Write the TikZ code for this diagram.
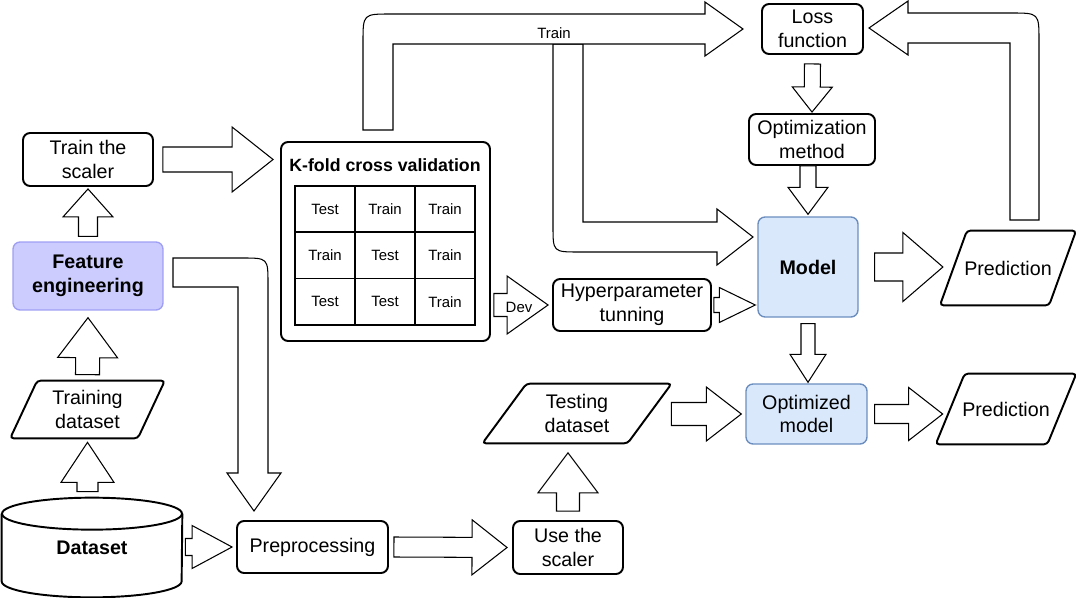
\documentclass[tikz,border=0pt]{standalone}
\usepackage{fontspec}
\setmainfont{Liberation Sans}
\usetikzlibrary{calc}
\definecolor{purplefill}{HTML}{CCCCFF}
\definecolor{purpleline}{HTML}{9F9FF5}
\definecolor{bluefill}{HTML}{DAE8FC}
\definecolor{blueline}{HTML}{6C8EBF}
\tikzset{
  txt/.style={font=\fontsize{11.2}{13.4}\selectfont},
  boldtxt/.style={font=\fontsize{11.2}{13.4}\selectfont\bfseries},
  box/.style={draw, line width=1.1pt, rounded corners=4pt, align=center, inner sep=1pt, txt},
  purplebox/.style={box, draw=purpleline, line width=0.8pt, fill=purplefill, boldtxt},
  bluebox/.style={box, draw=blueline, line width=0.8pt, fill=bluefill},
  para/.style={align=center, inner sep=1pt, txt, append after command={\pgfextra{
    \draw[line width=1.1pt, rounded corners=2pt] ([xshift=#1]\tikzlastnode.north west)
      -- ([xshift=#1]\tikzlastnode.north east) -- ([xshift=-#1]\tikzlastnode.south east)
      -- ([xshift=-#1]\tikzlastnode.south west) -- cycle;}}},
  cell/.style={draw, line width=0.9pt, minimum width=1.2cm, minimum height=0.927cm, inner sep=0pt,
    font=\fontsize{8.5}{10}\selectfont},
  lbl/.style={inner sep=0pt, font=\fontsize{8.5}{10}\selectfont},
  bentarrow/.style={draw, fill=white, line width=0.6pt},
  flex/.style n args={3}{draw, fill=white, line width=0.6pt, to path={
    ($(\tikztostart)!#1!90:(\tikztotarget)$)
    -- ($(\tikztotarget)!#3!(\tikztostart)!#1!90:(\tikztotarget)$)
    -- ($(\tikztotarget)!#3!(\tikztostart)!#2!90:(\tikztotarget)$)
    -- (\tikztotarget)
    -- ($(\tikztotarget)!#3!(\tikztostart)!#2!-90:(\tikztotarget)$)
    -- ($(\tikztotarget)!#3!(\tikztostart)!#1!-90:(\tikztotarget)$)
    -- ($(\tikztostart)!#1!-90:(\tikztotarget)$) -- cycle}},
}
\begin{document}
\begin{tikzpicture}[x=0.02cm, y=-0.02cm]
\useasboundingbox (0,0) rectangle (1079,598);

% left column
\node[box, minimum width=2.6cm, minimum height=1.06cm] (ts) at (88,159.5) {Train the\\scaler};
\node[purplebox, minimum width=3cm, minimum height=1.36cm] (fe) at (88,276) {Feature\\engineering};
\node[para=.27cm, minimum width=2.54cm, minimum height=1.14cm] (td) at (87.5,409.5) {Training\\dataset};
\node[boldtxt, minimum width=3.6cm, minimum height=1.98cm] (ds) at (92,547.5) {Dataset};
\draw[line width=1.1pt] ([yshift=-.32cm]ds.north west) -- ([yshift=.32cm]ds.south west)
  arc[start angle=180, end angle=360, x radius=1.8cm, y radius=.32cm] -- ([yshift=-.32cm]ds.north east);
\draw[line width=1.1pt] ([yshift=-.32cm]ds.north) ellipse [x radius=1.8cm, y radius=.32cm];

% bottom row
\node[box, minimum width=3.02cm, minimum height=1.04cm] (pp) at (312.5,547) {Preprocessing};
\node[box, minimum width=2.2cm, minimum height=1.06cm] (us) at (568,547.5) {Use the\\scaler};
\node[para=.44cm, minimum width=2.89cm, minimum height=1.18cm] (tsd) at (577,413.5) {Testing\\dataset};
\node[bluebox, minimum width=2.42cm, minimum height=1.2cm] (om) at (806.5,414) {Optimized\\model};
\node[para=.29cm, minimum width=2.22cm, minimum height=1.4cm] (pr2) at (1006,409) {Prediction};

% model column
\node[bluebox, boldtxt, minimum width=2cm, minimum height=2cm] (md) at (808,267) {Model};
\node[para=.27cm, minimum width=2.17cm, minimum height=1.48cm] (pr1) at (1008,268) {Prediction};
\node[box, minimum width=3.16cm, minimum height=1.04cm] (hp) at (632,305) {Hyperparameter\\tunning};
\node[box, minimum width=2.52cm, minimum height=1.02cm] (opt) at (812,139.5) {Optimization\\method};
\node[box, minimum width=2.02cm, minimum height=1cm] (lf) at (812.5,29) {Loss\\function};

% k-fold table
\node[box, minimum width=4.18cm, minimum height=3.98cm] (kf) at (385.5,241.5) {};
\node[font=\fontsize{10.1}{12}\selectfont\bfseries, inner sep=0pt] (kft) at (385,165) {K-fold cross validation};
\foreach \i/\ta/\tb/\tc in {1/Test/Train/Train,2/Train/Test/Train,3/Test/Test/Train}{
  \node[cell] (c\i1) at (325,{162.8+46.33*\i}) {\ta};
  \node[cell] (c\i2) at (385,{162.8+46.33*\i}) {\tb};
  \node[cell] (c\i3) at (445,{162.8+46.33*\i}) {\tc};}

% bent arrows
\draw[bentarrow] (173,258) -- (242,258) .. controls (268,258) .. (268,284) -- (268,473) -- (281,473)
  -- (254,511) -- (227,473) -- (238,473) -- (238,287) -- (173,287) -- cycle;
\draw[bentarrow] (553,44) -- (553,226) .. controls (553,252) .. (579,252) -- (717,252) -- (717,265)
  -- (753,237) -- (717,209) -- (717,222) -- (583,222) -- (583,44) -- cycle;
\draw[bentarrow] (363,130) -- (363,42) .. controls (363,14) .. (391,14) -- (705,14) -- (705,2)
  -- (743,29) -- (705,56) -- (705,44) -- (393,44) -- (393,130) -- cycle;
\node[lbl] (trl) at (554,33) {Train};
\draw[bentarrow] (1039,220) -- (1039,41) .. controls (1039,13) .. (1011,13) -- (908,13) -- (908,1)
  -- (869,28) -- (908,55) -- (908,43) -- (1010,43) -- (1010,220) -- cycle;

% straight arrows
\draw[flex={.19cm}{.5cm}{.56cm}] ([yshift=.1cm]fe.north) to ([yshift=-.04cm]ts.south);
\draw[flex={.24cm}{.6cm}{.8cm}] ([yshift=.12cm]td.north) to ([yshift=-.14cm]fe.south);
\draw[flex={.21cm}{.53cm}{.8cm}] ([yshift=.12cm]td.south |- ds.north) to ([yshift=-.08cm]td.south);
\draw[flex={.25cm}{.65cm}{.82cm}] ([xshift=.18cm]ts.east) to ([xshift=-.14cm]kf.west |- ts.east);
\draw[flex={.17cm}{.43cm}{.8cm}] ([xshift=.06cm]ds.east |- pp.west) to ([xshift=-.08cm]pp.west);
\draw[flex={.2cm}{.55cm}{.7cm}] ([xshift=.1cm]pp.east) to ([xshift=-.1cm]us.west);
\draw[flex={.23cm}{.6cm}{.8cm}] ([yshift=.18cm]us.north) to ([yshift=-.19cm]us.north |- tsd.south);
\draw[flex={.23cm}{.54cm}{.7cm}] ([xshift=-1.48cm]om.west) to ([xshift=-.08cm]om.west);
\draw[flex={.19cm}{.53cm}{.68cm}] ([xshift=.14cm]om.east) to ([xshift=-.15cm]pr2.west |- om.east);
\draw[flex={.28cm}{.69cm}{.8cm}] ([xshift=.32cm]md.east) to ([xshift=-.21cm]pr1.west |- md.east);
\draw[flex={.14cm}{.36cm}{.56cm}] ([yshift=-.12cm]md.south) to ([yshift=.02cm]md.south |- om.north);
\draw[flex={.16cm}{.4cm}{.5cm}] ([yshift=-.18cm]lf.south) to ([yshift=.02cm]opt.north);
\draw[flex={.16cm}{.4cm}{.54cm}] (md.north |- opt.south) to ([yshift=.04cm]md.north);
\draw[flex={.15cm}{.35cm}{.72cm}] ([xshift=.04cm]hp.east) to ([xshift=-.04cm]md.west |- hp.east);
\draw[flex={.23cm}{.58cm}{.82cm}] ([xshift=.06cm]kf.east |- hp.west) to ([xshift=-.08cm]hp.west);
\node[lbl] (dev) at (519,307) {Dev};
\end{tikzpicture}
\end{document}
